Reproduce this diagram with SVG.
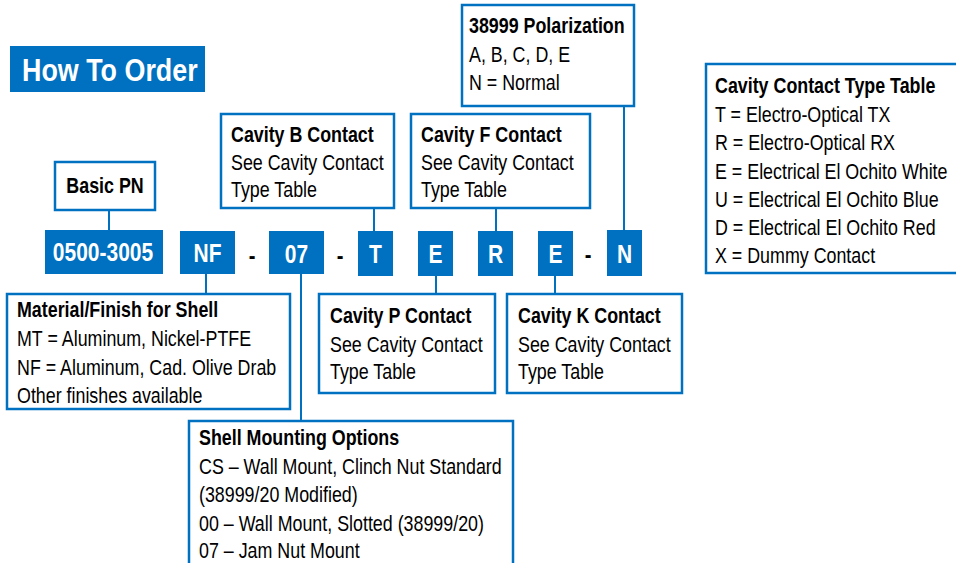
<svg xmlns="http://www.w3.org/2000/svg" width="956" height="563" viewBox="0 0 956 563">
<style>
text{font-family:"Liberation Sans",Arial,sans-serif;font-size:21.5px;fill:#000}
.b{font-weight:bold}
.box{fill:#fff;stroke:#0070C0;stroke-width:2.5}
.code{fill:#0070C0}
.ct{fill:#fff;font-weight:bold;font-size:25px;text-anchor:middle}
.ln{stroke:#0070C0;stroke-width:2;fill:none}
.dash{font-weight:bold;font-size:24px;text-anchor:middle}
</style>
<rect width="956" height="563" fill="#fff"/>
<g id="title">
<rect x="10" y="46" width="195" height="46" fill="#0070C0"/>
<text transform="translate(22,81) scale(0.84,1)" style="fill:#fff;font-weight:bold;font-size:32px">How To Order</text>
</g>
<g id="connectors">
<line class="ln" x1="109" y1="210" x2="109" y2="231"/>
<line class="ln" x1="206" y1="274" x2="206" y2="294"/>
<line class="ln" x1="301" y1="274" x2="301" y2="421"/>
<line class="ln" x1="374" y1="208" x2="374" y2="231"/>
<line class="ln" x1="496" y1="208" x2="496" y2="231"/>
<line class="ln" x1="624" y1="106" x2="624" y2="230"/>
<line class="ln" x1="436" y1="276" x2="436" y2="294"/>
<line class="ln" x1="555" y1="276" x2="555" y2="294"/>
</g>
<g id="basic-pn">
<rect class="box" x="55" y="162" width="100" height="48"/>
<text class="b" transform="translate(105,193) scale(0.83,1)" text-anchor="middle">Basic PN</text>
</g>
<g id="code-0500-3005"><rect class="code" x="45" y="230" width="118" height="44"/><text class="ct" transform="translate(103,261) scale(0.84,1)">0500-3005</text></g>
<g id="code-NF"><rect class="code" x="180" y="231" width="55" height="43"/><text class="ct" transform="translate(207.5,262) scale(0.84,1)">NF</text></g>
<text class="dash" transform="translate(252,264) scale(0.84,1)">-</text>
<g id="code-07"><rect class="code" x="269" y="231" width="55" height="43"/><text class="ct" transform="translate(296.5,263) scale(0.84,1)">07</text></g>
<text class="dash" transform="translate(340,264) scale(0.84,1)">-</text>
<g id="code-T"><rect class="code" x="358" y="231" width="35" height="45"/><text class="ct" transform="translate(375.5,263) scale(0.84,1)">T</text></g>
<g id="code-E1"><rect class="code" x="418" y="231" width="35" height="45"/><text class="ct" transform="translate(435.5,263) scale(0.84,1)">E</text></g>
<g id="code-R"><rect class="code" x="478" y="231" width="35" height="45"/><text class="ct" transform="translate(495.5,263) scale(0.84,1)">R</text></g>
<g id="code-E2"><rect class="code" x="538" y="231" width="35" height="45"/><text class="ct" transform="translate(555.5,263) scale(0.84,1)">E</text></g>
<text class="dash" transform="translate(588,263) scale(0.84,1)">-</text>
<g id="code-N"><rect class="code" x="607" y="230" width="35" height="46"/><text class="ct" transform="translate(624.5,263) scale(0.84,1)">N</text></g>
<g id="polarization">
<rect class="box" x="462" y="5" width="172" height="101"/>
<text class="b" transform="translate(469,33) scale(0.83,1)">38999 Polarization</text>
<text transform="translate(469,62) scale(0.83,1)">A, B, C, D, E</text>
<text transform="translate(469,90) scale(0.83,1)">N = Normal</text>
</g>
<g id="cavity-b">
<rect class="box" x="221" y="114" width="173" height="94"/>
<text class="b" transform="translate(231,142) scale(0.83,1)">Cavity B Contact</text>
<text transform="translate(231,170) scale(0.83,1)">See Cavity Contact</text>
<text transform="translate(231,197) scale(0.83,1)">Type Table</text>
</g>
<g id="cavity-f">
<rect class="box" x="411" y="114" width="179" height="94"/>
<text class="b" transform="translate(421,142) scale(0.83,1)">Cavity F Contact</text>
<text transform="translate(421,170) scale(0.83,1)">See Cavity Contact</text>
<text transform="translate(421,197) scale(0.83,1)">Type Table</text>
</g>
<g id="material">
<rect class="box" x="7" y="294" width="283" height="115"/>
<text class="b" transform="translate(17,317) scale(0.83,1)">Material/Finish for Shell</text>
<text transform="translate(17,346) scale(0.83,1)">MT = Aluminum, Nickel-PTFE</text>
<text transform="translate(17,375) scale(0.83,1)">NF = Aluminum, Cad. Olive Drab</text>
<text transform="translate(17,403) scale(0.83,1)">Other finishes available</text>
</g>
<g id="cavity-p">
<rect class="box" x="319" y="294" width="176" height="99"/>
<text class="b" transform="translate(330,323) scale(0.83,1)">Cavity P Contact</text>
<text transform="translate(330,352) scale(0.83,1)">See Cavity Contact</text>
<text transform="translate(330,379) scale(0.83,1)">Type Table</text>
</g>
<g id="cavity-k">
<rect class="box" x="507" y="294" width="175" height="99"/>
<text class="b" transform="translate(518,323) scale(0.83,1)">Cavity K Contact</text>
<text transform="translate(518,352) scale(0.83,1)">See Cavity Contact</text>
<text transform="translate(518,379) scale(0.83,1)">Type Table</text>
</g>
<g id="shell-mounting">
<rect class="box" x="189" y="421" width="324" height="160"/>
<text class="b" transform="translate(199,445) scale(0.83,1)">Shell Mounting Options</text>
<text transform="translate(199,474) scale(0.83,1)">CS – Wall Mount, Clinch Nut Standard</text>
<text transform="translate(199,502) scale(0.83,1)">(38999/20 Modified)</text>
<text transform="translate(199,531) scale(0.83,1)">00 – Wall Mount, Slotted (38999/20)</text>
<text transform="translate(199,558) scale(0.83,1)">07 – Jam Nut Mount</text>
</g>
<g id="cavity-table">
<rect class="box" x="706" y="64" width="262" height="209"/>
<text class="b" transform="translate(715,93) scale(0.83,1)">Cavity Contact Type Table</text>
<text transform="translate(715,122) scale(0.83,1)">T = Electro-Optical TX</text>
<text transform="translate(715,150) scale(0.83,1)">R = Electro-Optical RX</text>
<text transform="translate(715,179) scale(0.83,1)">E = Electrical El Ochito White</text>
<text transform="translate(715,207) scale(0.83,1)">U = Electrical El Ochito Blue</text>
<text transform="translate(715,235) scale(0.83,1)">D = Electrical El Ochito Red</text>
<text transform="translate(715,263) scale(0.83,1)">X = Dummy Contact</text>
</g>
</svg>
